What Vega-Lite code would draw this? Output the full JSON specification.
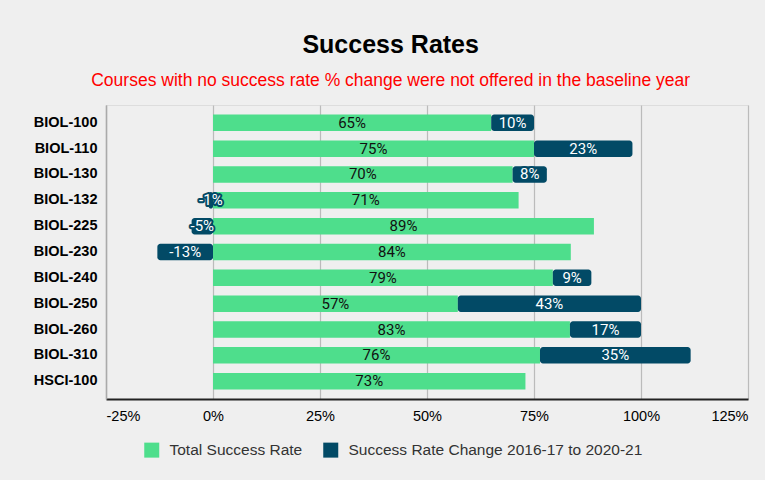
{
  "$schema": "https://vega.github.io/schema/vega-lite/v6.json",
  "width": 642,
  "height": 294,
  "autosize": {"type": "none"},
  "padding": {"left": 106, "top": 105, "right": 17, "bottom": 81},
  "background": "#efefef",
  "config": {
    "locale": {
      "number": {"decimal": ".", "thousands": ",", "grouping": [3], "currency": ["$", ""], "minus": "-"}
    }
  },
  "title": {
    "text": "Success Rates",
    "subtitle": "Courses with no success rate % change were not offered in the baseline year",
    "font": "Liberation Sans",
    "fontSize": 25,
    "fontWeight": "bold",
    "color": "#000000",
    "subtitleFont": "Liberation Sans",
    "subtitleFontSize": 17.5,
    "subtitleColor": "#ff0000",
    "subtitlePadding": 14,
    "anchor": "middle",
    "frame": "bounds",
    "offset": 16
  },
  "data": {
    "values": [
      {"course": "BIOL-100", "series": "Total Success Rate", "ord": 1, "value": 0.65},
      {"course": "BIOL-100", "series": "Success Rate Change 2016-17 to 2020-21", "ord": 2, "value": 0.10},
      {"course": "BIOL-110", "series": "Total Success Rate", "ord": 1, "value": 0.75},
      {"course": "BIOL-110", "series": "Success Rate Change 2016-17 to 2020-21", "ord": 2, "value": 0.23},
      {"course": "BIOL-130", "series": "Total Success Rate", "ord": 1, "value": 0.70},
      {"course": "BIOL-130", "series": "Success Rate Change 2016-17 to 2020-21", "ord": 2, "value": 0.08},
      {"course": "BIOL-132", "series": "Total Success Rate", "ord": 1, "value": 0.714},
      {"course": "BIOL-132", "series": "Success Rate Change 2016-17 to 2020-21", "ord": 2, "value": -0.01},
      {"course": "BIOL-225", "series": "Total Success Rate", "ord": 1, "value": 0.89},
      {"course": "BIOL-225", "series": "Success Rate Change 2016-17 to 2020-21", "ord": 2, "value": -0.05},
      {"course": "BIOL-230", "series": "Total Success Rate", "ord": 1, "value": 0.836},
      {"course": "BIOL-230", "series": "Success Rate Change 2016-17 to 2020-21", "ord": 2, "value": -0.13},
      {"course": "BIOL-240", "series": "Total Success Rate", "ord": 1, "value": 0.794},
      {"course": "BIOL-240", "series": "Success Rate Change 2016-17 to 2020-21", "ord": 2, "value": 0.09},
      {"course": "BIOL-250", "series": "Total Success Rate", "ord": 1, "value": 0.572},
      {"course": "BIOL-250", "series": "Success Rate Change 2016-17 to 2020-21", "ord": 2, "value": 0.428},
      {"course": "BIOL-260", "series": "Total Success Rate", "ord": 1, "value": 0.834},
      {"course": "BIOL-260", "series": "Success Rate Change 2016-17 to 2020-21", "ord": 2, "value": 0.166},
      {"course": "BIOL-310", "series": "Total Success Rate", "ord": 1, "value": 0.764},
      {"course": "BIOL-310", "series": "Success Rate Change 2016-17 to 2020-21", "ord": 2, "value": 0.352},
      {"course": "HSCI-100", "series": "Total Success Rate", "ord": 1, "value": 0.73}
    ]
  },
  "transform": [
    {"stack": "value", "groupby": ["course"], "sort": [{"field": "ord", "order": "ascending"}], "as": ["v0", "v1"]},
    {"calculate": "(datum.v0 + datum.v1) / 2", "as": "mid"}
  ],
  "encoding": {
    "y": {
      "field": "course",
      "type": "nominal",
      "sort": null,
      "scale": {"paddingInner": 0.36, "paddingOuter": 0.37},
      "axis": {
        "title": null,
        "ticks": false,
        "labelFont": "Liberation Sans",
        "labelFontSize": 14.5,
        "labelFontWeight": "bold",
        "labelColor": "#000000",
        "labelPadding": 9,
        "domainColor": "#aaaaaa",
        "domainWidth": 1.5
      }
    }
  },
  "layer": [
    {
      "transform": [{"filter": "datum.ord == 1"}],
      "mark": {"type": "bar"},
      "encoding": {
        "x": {
          "field": "v0",
          "type": "quantitative",
          "scale": {"domain": [-0.25, 1.25], "nice": false, "zero": false},
          "axis": {
            "title": null,
            "format": ".0%",
            "values": [-0.25, 0, 0.25, 0.5, 0.75, 1, 1.25],
            "ticks": false,
            "labelFont": "Liberation Sans",
            "labelFontSize": 14.5,
            "labelColor": "#000000",
            "labelPadding": 10,
            "gridColor": "#bbbbbb",
            "gridWidth": 1.2,
            "domainColor": "#222222",
            "domainWidth": 2
          }
        },
        "x2": {"field": "v1"},
        "color": {
          "field": "series",
          "type": "nominal",
          "scale": {
            "domain": ["Total Success Rate", "Success Rate Change 2016-17 to 2020-21"],
            "range": ["#4ede8c", "#024a66"]
          },
          "legend": {
            "title": null,
            "orient": "none",
            "legendX": 38,
            "legendY": 337,
            "direction": "horizontal",
            "symbolType": "square",
            "symbolSize": 225,
            "symbolStrokeWidth": 0,
            "labelFont": "Liberation Sans",
            "labelFontSize": 15.5,
            "labelColor": "#333333",
            "labelOffset": 10,
            "columnPadding": 20,
            "labelLimit": 400
          }
        }
      }
    },
    {
      "transform": [{"filter": "datum.ord == 2"}],
      "mark": {"type": "bar", "cornerRadius": 3, "color": "#024a66"},
      "encoding": {
        "x": {"field": "v0", "type": "quantitative"},
        "x2": {"field": "v1"}
      }
    },
    {
      "mark": {"type": "rule", "color": "#000000", "strokeWidth": 1.2},
      "encoding": {"x": {"datum": 0}}
    },
    {
      "transform": [{"filter": "datum.ord == 2"}],
      "mark": {"type": "text", "font": "Roboto", "fontSize": 15, "align": "center", "baseline": "middle", "stroke": "#024a66", "strokeWidth": 4, "strokeJoin": "round", "color": "#024a66"},
      "encoding": {
        "x": {"field": "mid", "type": "quantitative"},
        "text": {"field": "value", "type": "quantitative", "format": ".0%"}
      }
    },
    {
      "mark": {"type": "text", "font": "Roboto", "fontSize": 15, "align": "center", "baseline": "middle"},
      "encoding": {
        "x": {"field": "mid", "type": "quantitative"},
        "text": {"field": "value", "type": "quantitative", "format": ".0%"},
        "color": {
          "condition": {"test": "datum.ord == 1", "value": "#111111"},
          "value": "#ffffff"
        }
      }
    }
  ]
}
